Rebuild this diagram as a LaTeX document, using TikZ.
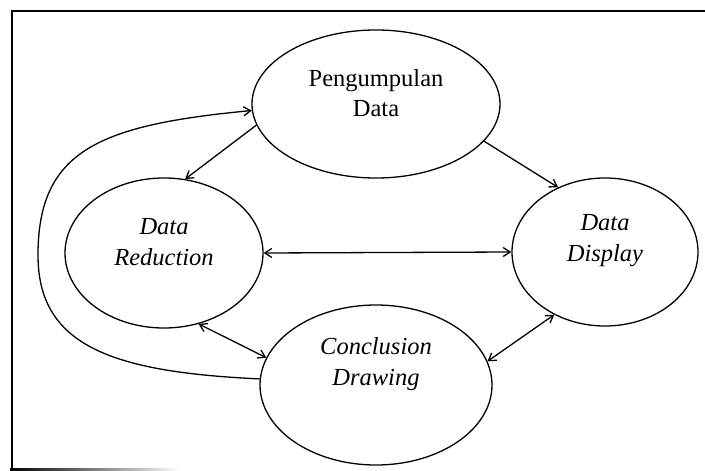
\documentclass[tikz,border=0pt]{standalone}
\usepackage{fontspec}
\setmainfont{Liberation Serif}
\usetikzlibrary{positioning,shapes.geometric,arrows.meta}
\tikzset{
  bubble/.style={draw, ellipse, line width=1.3pt, inner sep=0pt},
  rtxt/.style={align=center, font=\fontsize{24.5}{30}\selectfont},
  itxt/.style={align=center, font=\fontsize{24.5}{31}\selectfont\itshape},
  flow/.style={line width=1.3pt, -{Straight Barb[length=7pt,width=9pt]}},
  both/.style={line width=1.3pt, {Straight Barb[length=7pt,width=9pt]}-{Straight Barb[length=7pt,width=9pt]}}
}
\begin{document}
\begin{tikzpicture}[x=1pt,y=1pt]
\useasboundingbox (0,0) rectangle (705,-471);
\draw[line width=1.6pt] (12,-470) -- (12,-11) -- (705,-11);
\shade[left color=black, right color=white] (10,-470.5) rectangle (180,-468.5);
\coordinate (p) at (376,-104);
\coordinate[below left=149pt and 212pt of p] (r);
\coordinate[below right=148pt and 229pt of p] (d);
\coordinate[below=281pt of p] (c);
\node[bubble, minimum width=248pt, minimum height=148pt] (pengumpulan) at (p) {};
\node[bubble, minimum width=198pt, minimum height=150pt] (reduction) at (r) {};
\node[bubble, minimum width=186pt, minimum height=148pt] (display) at (d) {};
\node[bubble, minimum width=232pt, minimum height=160pt] (conclusion) at (c) {};
\node[rtxt, yshift=11pt] (pengumpulan-text) at (p) {Pengumpulan\\Data};
\node[itxt, yshift=11pt] (reduction-text) at (r) {Data\\Reduction};
\node[itxt, yshift=11pt] (display-text) at (d) {Data\\Display};
\node[itxt, yshift=21pt] (conclusion-text) at (c) {Conclusion\\Drawing};
\coordinate (loopleft) at (38,-255);
\draw[flow] (pengumpulan.190) -- (reduction.74);
\draw[flow] (pengumpulan.341) -- (display.126);
\draw[both] (reduction.east) -- (display.west);
\draw[both] (reduction.296) -- (conclusion.166);
\draw[both] (conclusion.12) -- (display.231);
\draw[flow] (conclusion.177) .. controls (110,-372) and (38,-345) .. (loopleft)
  .. controls (38,-150) and (100,-125) .. (pengumpulan.183);
\end{tikzpicture}
\end{document}
